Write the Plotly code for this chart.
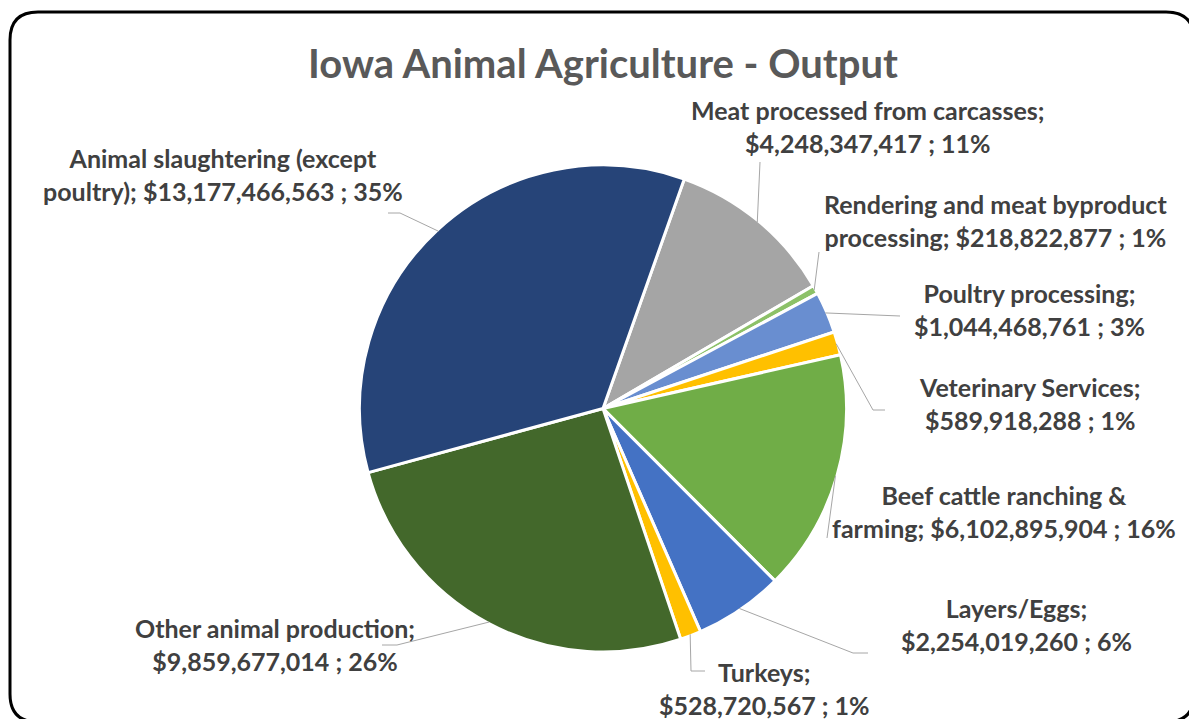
import math
import plotly.graph_objects as go

# ---- data -------------------------------------------------------------
categories = [
    "Meat processed from carcasses",
    "Rendering and meat byproduct processing",
    "Poultry processing",
    "Veterinary Services",
    "Beef cattle ranching & farming",
    "Layers/Eggs",
    "Turkeys",
    "Other animal production",
    "Animal slaughtering (except poultry)",
]
output_usd = [
    4248347417,
    218822877,
    1044468761,
    589918288,
    6102895904,
    2254019260,
    528720567,
    9859677014,
    13177466563,
]
pct_labels = ["11%", "1%", "3%", "1%", "16%", "6%", "1%", "26%", "35%"]

# label wording, split into the two lines shown beside each slice
label_templates = [
    "Meat processed from carcasses;<br>{v} ; {p}",
    "Rendering and meat byproduct<br>processing; {v} ; {p}",
    "Poultry processing;<br>{v} ; {p}",
    "Veterinary Services;<br>{v} ; {p}",
    "Beef cattle ranching &<br>farming; {v} ; {p}",
    "Layers/Eggs;<br>{v} ; {p}",
    "Turkeys;<br>{v} ; {p}",
    "Other animal production;<br>{v} ; {p}",
    "Animal slaughtering (except<br>poultry); {v} ; {p}",
]

# ---- styling / layout -------------------------------------------------
W, H = 1189, 719
colors = ["#A5A5A5", "#8CC168", "#698ED0", "#FFC000", "#70AD47",
          "#4472C4", "#FFC000", "#43682B", "#264478"]
CX, CY, R = 603, 408.5, 243.5      # pie centre / radius in pixels
ROTATION = 19.5                     # first slice starts this many deg clockwise of 12 o'clock

# label centre (px) for each slice
label_pos = [(868, 127), (995, 220), (1029, 309), (1029, 403), (1004, 511),
             (1017, 624), (764, 688), (275, 644), (223, 174)]
# leader-line waypoints after the slice-edge start point (px)
leader_pts = [
    [(760, 162)],
    [(819, 252)],
    [(900, 316)],
    [(873, 410), (885, 410)],
    [(827, 538)],
    [(853, 653), (868, 653)],
    [(691, 671), (705, 671)],
    [(397, 645), (382, 645)],
    [(400, 213), (388, 213)],
]

FONT = "Lato"
LABEL_COLOR = "#404040"
LABEL_SIZE = 25
TITLE_SIZE = 40


def px(x):
    return x / W


def py(y):
    return 1 - y / H


total = sum(output_usd)

fig = go.Figure(go.Pie(
    labels=categories,
    values=output_usd,
    sort=False,
    direction="clockwise",
    rotation=ROTATION,
    marker=dict(colors=colors, line=dict(color="white", width=3)),
    textinfo="none",
    hovertemplate="%{label}<br>$%{value:,}<br>%{percent}<extra></extra>",
    domain=dict(x=[px(CX - R), px(CX + R)], y=[py(CY + R), py(CY - R)]),
))

shapes = []
annotations = []
cum = 0.0
for i, v in enumerate(output_usd):
    mid = math.radians(ROTATION + 360 * (cum + v / 2) / total)
    cum += v
    r_edge = R - 1.5
    sx = CX + r_edge * math.sin(mid)
    sy = CY - r_edge * math.cos(mid)
    pts = [(sx, sy)] + leader_pts[i]
    path = "M {} {}".format(px(pts[0][0]), py(pts[0][1]))
    for (x, y) in pts[1:]:
        path += " L {} {}".format(px(x), py(y))
    shapes.append(dict(type="path", xref="paper", yref="paper", path=path,
                       line=dict(color="#A6A6A6", width=1)))

    text = label_templates[i].format(v="${:,}".format(v), p=pct_labels[i])
    lx, ly = label_pos[i]
    annotations.append(dict(
        x=px(lx), y=py(ly), xref="paper", yref="paper",
        text="<b>{}</b>".format(text), showarrow=False,
        xanchor="center", yanchor="middle", align="center",
        font=dict(family=FONT, size=LABEL_SIZE, color=LABEL_COLOR),
    ))

# title
annotations.append(dict(
    x=px(603), y=py(63), xref="paper", yref="paper",
    text="<b>Iowa Animal Agriculture - Output</b>", showarrow=False,
    xanchor="center", yanchor="middle",
    font=dict(family=FONT, size=TITLE_SIZE, color="#595959"),
))

# rounded chart-area border (right and bottom edges run just past the page)
L, T, Rt, B, c = 10, 12, 1194, 722, 28
border = (
    f"M {px(L)} {py(T + c)} Q {px(L)} {py(T)} {px(L + c)} {py(T)} "
    f"L {px(Rt - c)} {py(T)} Q {px(Rt)} {py(T)} {px(Rt)} {py(T + c)} "
    f"L {px(Rt)} {py(B - c)} Q {px(Rt)} {py(B)} {px(Rt - c)} {py(B)} "
    f"L {px(L + c)} {py(B)} Q {px(L)} {py(B)} {px(L)} {py(B - c)} Z"
)
shapes.append(dict(type="path", xref="paper", yref="paper", path=border,
                   line=dict(color="black", width=3), layer="above"))

fig.update_layout(
    width=W, height=H,
    margin=dict(l=0, r=0, t=0, b=0),
    paper_bgcolor="white", plot_bgcolor="white",
    showlegend=False,
    shapes=shapes,
    annotations=annotations,
)

fig.write_html("out.html")
